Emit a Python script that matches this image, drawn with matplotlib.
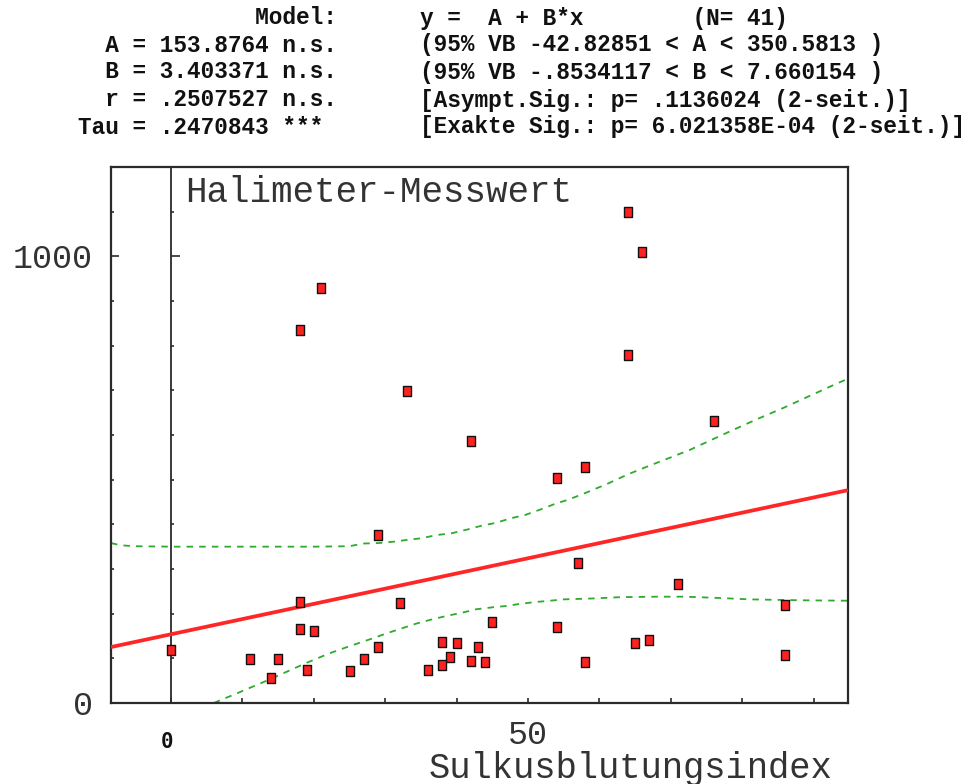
import matplotlib
matplotlib.use("Agg")
import matplotlib.pyplot as plt
from matplotlib.path import Path
from matplotlib.transforms import ScaledTranslation
import numpy as np

# ---------------- data ----------------
x_vals = [21, 18, 33, 42, 64, 66, 64, 76, 29, 18, 32, 18, 20, 0, 11, 15, 14, 19, 25, 27,
          29, 45, 38, 40, 43, 39, 42, 44, 36, 38, 54, 58, 57, 71, 86, 86, 54, 65, 67, 58]
y_vals = [928, 836, 698, 586, 1099, 1010, 780, 632, 376, 227, 223, 165, 161, 119, 99, 99, 56, 74, 72, 99,
          126, 181, 137, 134, 126, 103, 95, 91, 75, 84, 504, 528, 313, 267, 220, 107, 170, 134, 142, 91]

coef_A = 153.8764
coef_B = 3.403371

upper_x = [-8.4, -7, -5, 0, 10, 20, 25, 26.9, 29, 31.1, 33, 35.1, 37.2, 39.3, 41.4, 43.5, 45.4,
           47.7, 49.6, 51.7, 53.8, 55.6, 58, 61, 64, 67.1, 70, 72.7, 75.8, 78.8, 82, 85.8,
           89.5, 93.2, 94.8]
upper_y = [358, 353, 351, 350, 350, 350, 351, 357, 358, 361, 365, 369, 376, 380, 388, 397, 403,
           414, 421, 433, 446, 455, 470, 490, 512, 532, 550, 567, 590, 612, 635, 661,
           688, 715, 726]
lower_x = [6, 7, 9, 11.5, 14, 16.2, 19, 22, 24.6, 28.3, 30.2, 32.3, 34.4, 36.5, 38.6, 40.7,
           42.8, 44.9, 46.8, 48.9, 51, 53.1, 55, 59, 63, 68, 72, 77, 81, 88, 94.8]
lower_y = [0, 7, 20, 37, 54, 70, 90, 110, 125, 145, 156, 167, 178, 187, 195, 202,
           210, 214, 217, 222, 226, 229, 232, 234, 237, 238, 238, 235, 232, 230, 229]

x_limits = [-8.4, 94.8]
y_limits = [0, 1200]
xtick_major = [0, 50]
xtick_labels = ["0", "50"]
xtick_minor = [10, 20, 30, 40, 60, 70, 80, 90]
ytick_major = [0, 1000]
ytick_labels = ["0", "1000"]
ytick_minor = [100, 200, 300, 400, 500, 600, 700, 800, 900, 1100, 1200]

header_left = ["             Model:",
               "  A = 153.8764 n.s.",
               "  B = 3.403371 n.s.",
               "  r = .2507527 n.s.",
               "Tau = .2470843 ***"]
header_right = ["y =  A + B*x        (N= 41)",
                "(95% VB -42.82851 < A < 350.5813 )",
                "(95% VB -.8534117 < B < 7.660154 )",
                "[Asympt.Sig.: p= .1136024 (2-seit.)]",
                "[Exakte Sig.: p= 6.021358E-04 (2-seit.)]"]
title_text = "Halimeter-Messwert"
xlabel_text = "Sulkusblutungsindex"

# ---------------- figure ----------------
W, H = 976, 784
fig = plt.figure(figsize=(W / 100, H / 100), dpi=100)
ax = fig.add_axes([111 / W, 1 - 703 / H, (848 - 111) / W, (703 - 167) / H])
ax.set_xlim(x_limits)
ax.set_ylim(y_limits)

frame_col = "#2a2a2a"
text_col = "#333333"
for s in ax.spines.values():
    s.set_color(frame_col)
    s.set_linewidth(1.6)

# regression line
xl = np.array(x_limits)
ax.plot(xl, coef_A + coef_B * xl, color="#ff2626", lw=2.7, zorder=3, solid_capstyle="butt")
# confidence bands
band_style = dict(color="#2eaa2e", lw=1.3, ls=(0, (3.6, 3.4)), zorder=2)
ax.plot(upper_x, upper_y, **band_style)
ax.plot(lower_x, lower_y, **band_style)

# rectangular markers
rect = Path([(-2.2, -3), (2.2, -3), (2.2, 3), (-2.2, 3), (-2.2, -3)],
            [Path.MOVETO, Path.LINETO, Path.LINETO, Path.LINETO, Path.CLOSEPOLY])
ax.plot(x_vals, y_vals, ls="none", marker=rect, markersize=7, markerfacecolor="#ff2020",
        markeredgecolor="#111111", markeredgewidth=1.0, zorder=5, clip_on=False)

# ticks
tick_family = "Liberation Mono"
ax.set_xticks(xtick_major, labels=xtick_labels)
ax.set_xticks(xtick_minor, minor=True)
ax.set_yticks(ytick_major, labels=ytick_labels)
ax.set_yticks(ytick_minor, minor=True)
ax.tick_params(axis="x", which="both", direction="in", length=3.8, width=1.2, color=frame_col,
               pad=12, labelcolor=text_col)
ax.tick_params(axis="y", which="major", direction="in", length=6, width=1.2, color=frame_col,
               pad=13, labelcolor=text_col)
ax.tick_params(axis="y", which="minor", direction="in", length=2, width=1.2, color=frame_col)
for lab in ax.get_xticklabels() + ax.get_yticklabels():
    lab.set_fontfamily(tick_family)
    lab.set_fontsize(24)
# the x "0" label is drawn in a small bold bitmap-like font, lower
zero_lab = ax.get_xticklabels()[0]
zero_lab.set_fontfamily("DejaVu Sans Mono")
zero_lab.set_fontweight("bold")
zero_lab.set_fontsize(15)
zero_lab.set_color("#111111")
zero_lab.set_transform(zero_lab.get_transform() + ScaledTranslation(-4 / 100, -12 / 100, fig.dpi_scale_trans))

# vertical axis at x = 0 with its own ticks
x0_frac = (0 - x_limits[0]) / (x_limits[1] - x_limits[0])
sec = ax.secondary_yaxis(x0_frac)
sec.set_ticks(ytick_major)
sec.set_ticks(ytick_minor, minor=True)
sec.tick_params(which="both", direction="in", labelleft=False, labelright=False, color=frame_col, width=1.2)
sec.tick_params(which="major", length=6.5)
sec.tick_params(which="minor", length=2.2)
for s in sec.spines.values():
    s.set_color(frame_col)
    s.set_linewidth(1.3)

# title inside plot
ax.text((185 - 111) / (848 - 111), (703 - 192) / (703 - 167), title_text, transform=ax.transAxes,
        ha="left", va="center", fontfamily="Liberation Mono", fontsize=25.8, color=text_col)

# x label
ax.set_xlabel(xlabel_text, fontfamily="Liberation Mono", fontsize=25.6, color=text_col)
ax.xaxis.set_label_coords((631 - 111) / (848 - 111), (703 - 768) / (703 - 167))
ax.xaxis.label.set_va("center")

# header text
line_y = [18, 45, 72, 100, 127]
for yy, tl, tr in zip(line_y, header_left, header_right):
    fig.text(78 / W, 1 - yy / H, tl, ha="left", va="center", fontfamily="Liberation Mono",
             fontweight="bold", fontsize=16.4, color="#111111")
    fig.text(420 / W, 1 - yy / H, tr, ha="left", va="center", fontfamily="Liberation Mono",
             fontweight="bold", fontsize=16.4, color="#111111")

fig.savefig("out.png", dpi=100, facecolor="white")
